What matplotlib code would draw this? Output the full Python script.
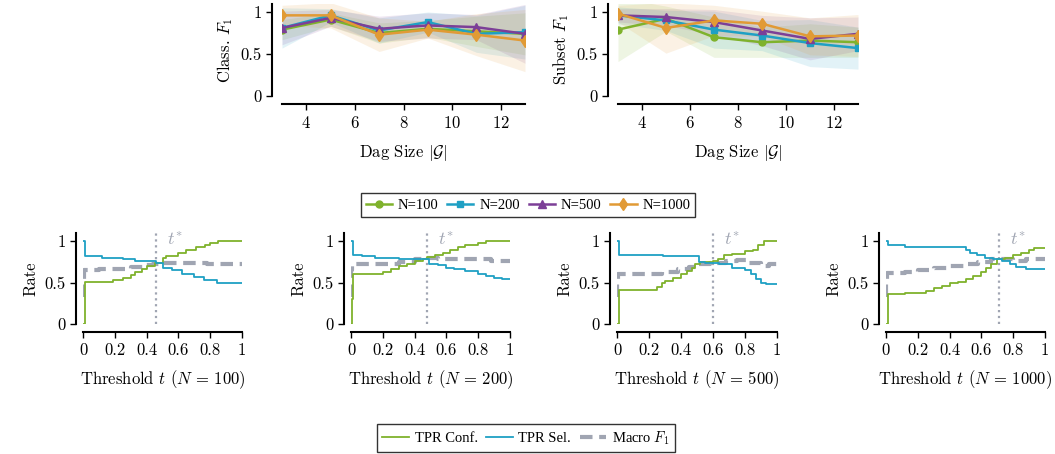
import matplotlib
matplotlib.use("Agg")
import matplotlib.pyplot as plt
import numpy as np

plt.rcParams["font.family"] = ["cmr10", "DejaVu Serif"]
plt.rcParams["mathtext.fontset"] = "cm"
plt.rcParams["axes.formatter.use_mathtext"] = True
plt.rcParams["axes.unicode_minus"] = False

# 데이터 (상단: DAG 크기별 F1)
dag_sizes = [3, 5, 7, 9, 11, 13]
sample_names = ["N=100", "N=200", "N=500", "N=1000"]

class_f1_100 = [0.79, 0.91, 0.75, 0.80, 0.77, 0.74]
class_f1_200 = [0.81, 0.96, 0.78, 0.88, 0.74, 0.76]
class_f1_500 = [0.81, 0.93, 0.80, 0.84, 0.82, 0.74]
class_f1_1000 = [0.96, 0.96, 0.73, 0.79, 0.73, 0.66]
class_std_100 = [0.12, 0.08, 0.12, 0.10, 0.18, 0.25]
class_std_200 = [0.24, 0.08, 0.15, 0.12, 0.22, 0.32]
class_std_500 = [0.20, 0.10, 0.15, 0.15, 0.15, 0.35]
class_std_1000 = [0.12, 0.15, 0.20, 0.10, 0.25, 0.37]

subset_f1_100 = [0.79, 0.92, 0.70, 0.64, 0.66, 0.64]
subset_f1_200 = [0.96, 0.90, 0.79, 0.72, 0.63, 0.57]
subset_f1_500 = [0.96, 0.94, 0.88, 0.78, 0.68, 0.74]
subset_f1_1000 = [0.98, 0.81, 0.90, 0.86, 0.71, 0.72]
subset_std_100 = [0.38, 0.15, 0.24, 0.18, 0.20, 0.18]
subset_std_200 = [0.10, 0.12, 0.22, 0.18, 0.28, 0.25]
subset_std_500 = [0.08, 0.10, 0.15, 0.18, 0.25, 0.20]
subset_std_1000 = [0.10, 0.30, 0.18, 0.15, 0.22, 0.25]

# 데이터 (하단: threshold 별 rate, (t, 값) 계단점)
conf_100 = [(0, 0), (0.01, 0.51), (0.19, 0.53), (0.25, 0.56), (0.3, 0.59), (0.33, 0.63),
            (0.37, 0.67), (0.4, 0.70), (0.45, 0.74), (0.5, 0.80), (0.52, 0.82), (0.6, 0.86),
            (0.65, 0.90), (0.71, 0.93), (0.77, 0.96), (0.8, 0.98), (0.85, 1.0), (1.0, 1.0)]
sel_100 = [(0, 1.0), (0.01, 0.82), (0.12, 0.80), (0.25, 0.79), (0.33, 0.76), (0.46, 0.74),
           (0.5, 0.68), (0.56, 0.65), (0.62, 0.61), (0.7, 0.57), (0.76, 0.53), (0.84, 0.5),
           (1.0, 0.5)]
f1_100 = [(0, 0.33), (0.003, 0.5), (0.006, 0.65), (0.1, 0.66), (0.2, 0.67), (0.3, 0.69),
          (0.38, 0.71), (0.44, 0.73), (0.5, 0.74), (0.65, 0.74), (0.78, 0.73), (1.0, 0.73)]

conf_200 = [(0, 0), (0.005, 0.3), (0.01, 0.6), (0.2, 0.63), (0.25, 0.66), (0.3, 0.7),
            (0.35, 0.73), (0.4, 0.76), (0.45, 0.79), (0.48, 0.81), (0.53, 0.83), (0.58, 0.86),
            (0.62, 0.9), (0.67, 0.93), (0.72, 0.96), (0.8, 0.98), (0.85, 1.0), (1.0, 1.0)]
sel_200 = [(0, 1.0), (0.01, 0.84), (0.07, 0.82), (0.15, 0.80), (0.3, 0.79), (0.49, 0.73),
           (0.55, 0.71), (0.6, 0.68), (0.65, 0.66), (0.72, 0.64), (0.8, 0.61), (0.85, 0.58),
           (0.9, 0.56), (0.95, 0.55), (1.0, 0.55)]
f1_200 = [(0, 0.33), (0.003, 0.65), (0.006, 0.72), (0.2, 0.73), (0.3, 0.75), (0.4, 0.78),
          (0.46, 0.8), (0.55, 0.79), (0.7, 0.79), (0.8, 0.78), (0.88, 0.76), (1.0, 0.76)]

conf_500 = [(0, 0), (0.01, 0.41), (0.25, 0.45), (0.28, 0.5), (0.3, 0.52), (0.35, 0.56),
            (0.4, 0.6), (0.44, 0.64), (0.47, 0.68), (0.49, 0.72), (0.52, 0.75), (0.6, 0.76),
            (0.63, 0.79), (0.67, 0.83), (0.72, 0.85), (0.8, 0.88), (0.85, 0.9), (0.88, 0.95),
            (0.92, 1.0), (1.0, 1.0)]
sel_500 = [(0, 1.0), (0.01, 0.84), (0.29, 0.82), (0.51, 0.75), (0.55, 0.74), (0.64, 0.72),
           (0.72, 0.68), (0.8, 0.65), (0.84, 0.6), (0.87, 0.55), (0.9, 0.5), (0.93, 0.48),
           (1.0, 0.48)]
f1_500 = [(0, 0.33), (0.003, 0.55), (0.006, 0.6), (0.2, 0.61), (0.28, 0.63), (0.38, 0.66),
          (0.45, 0.69), (0.5, 0.72), (0.58, 0.74), (0.68, 0.76), (0.75, 0.77), (0.82, 0.74),
          (0.9, 0.7), (0.95, 0.72), (1.0, 0.72)]

conf_1000 = [(0, 0), (0.01, 0.36), (0.12, 0.37), (0.25, 0.4), (0.3, 0.43), (0.35, 0.46),
             (0.4, 0.49), (0.45, 0.51), (0.5, 0.54), (0.55, 0.58), (0.6, 0.63), (0.63, 0.68),
             (0.66, 0.73), (0.7, 0.78), (0.75, 0.8), (0.8, 0.83), (0.85, 0.86), (0.9, 0.9),
             (0.93, 0.92), (1.0, 0.92)]
sel_1000 = [(0, 1.0), (0.01, 0.95), (0.12, 0.93), (0.5, 0.9), (0.53, 0.86), (0.57, 0.83),
            (0.62, 0.8), (0.67, 0.78), (0.73, 0.76), (0.78, 0.73), (0.82, 0.69), (0.88, 0.66),
            (1.0, 0.66)]
f1_1000 = [(0, 0.33), (0.003, 0.55), (0.006, 0.62), (0.12, 0.63), (0.2, 0.65), (0.3, 0.68),
           (0.4, 0.7), (0.5, 0.73), (0.58, 0.75), (0.66, 0.78), (0.75, 0.78), (0.8, 0.76),
           (0.88, 0.78), (1.0, 0.79)]

t_star = [0.46, 0.48, 0.60, 0.71]
panel_n = [100, 200, 500, 1000]

rate_ticks = [0, 0.5, 1]
rate_tick_labels = ["0", "0.5", "1"]
t_ticks = [0, 0.2, 0.4, 0.6, 0.8, 1.0]
t_tick_labels = ["0", "0.2", "0.4", "0.6", "0.8", "1"]
dag_ticks = [4, 6, 8, 10, 12]

# 색상
c_green = "#7fb22c"
c_blue = "#1fa0c4"
c_purple = "#7c3f97"
c_orange = "#e19a35"
c_gray = "#a0a5b2"
colors = [c_green, c_blue, c_purple, c_orange]
markers = ["o", "s", "^", "d"]
msizes = [5, 5, 5.5, 6]

W, H = 1055, 454
fig = plt.figure(figsize=(W / 100, H / 100), dpi=100)


def px_axes(x0, x1, ytop, ybot):
    return fig.add_axes([x0 / W, 1 - ybot / H, (x1 - x0) / W, (ybot - ytop) / H])


def style_axes(ax, left_off=7, bottom_off=6):
    for s in ["top", "right"]:
        ax.spines[s].set_visible(False)
    ax.spines["left"].set_position(("outward", left_off))
    ax.spines["bottom"].set_position(("outward", bottom_off))
    ax.spines["left"].set_linewidth(1.5)
    ax.spines["bottom"].set_linewidth(1.5)
    ax.tick_params(labelsize=12, length=4, width=1, direction="out")


# 1. 상단 F1 그래프
top_specs = [
    (282, 525, "Class. $F_1$",
     [class_f1_100, class_f1_200, class_f1_500, class_f1_1000],
     [class_std_100, class_std_200, class_std_500, class_std_1000]),
    (618, 858, "Subset $F_1$",
     [subset_f1_100, subset_f1_200, subset_f1_500, subset_f1_1000],
     [subset_std_100, subset_std_200, subset_std_500, subset_std_1000]),
]

legend_handles = []
for x0, x1, ylab, means, stds in top_specs:
    ax = px_axes(x0, x1, 3.6, 96)
    for i in range(4):
        m = np.array(means[i])
        s = np.array(stds[i])
        ax.fill_between(dag_sizes, m - s, m + s, color=colors[i], alpha=0.13, lw=0)
    handles = []
    for i in range(4):
        h, = ax.plot(dag_sizes, means[i], color=colors[i], marker=markers[i],
                     markersize=msizes[i], lw=1.8, label=sample_names[i])
        handles.append(h)
    legend_handles = handles
    ax.set_xlim(3, 13)
    ax.set_ylim(0, 1.1)
    ax.set_xticks(dag_ticks)
    ax.set_yticks(rate_ticks)
    ax.set_yticklabels(rate_tick_labels)
    ax.set_xlabel(r"Dag Size $|\mathcal{G}|$", fontsize=12, labelpad=9)
    ax.set_ylabel(ylab, fontsize=12)
    style_axes(ax, left_off=7, bottom_off=6)

fig.legend(handles=legend_handles, labels=sample_names, loc="center",
           bbox_to_anchor=(528 / W, 1 - 205 / H), ncol=4, frameon=True,
           fancybox=False, edgecolor="black", handlelength=1.8, columnspacing=0.6,
           handletextpad=0.4, borderpad=0.35, borderaxespad=0,
           prop={"family": "Liberation Serif", "size": 10.5})

# 2. 하단 threshold 그래프
panel_x = [(83, 242), (351, 510), (617, 777), (886, 1045)]
conf_all = [conf_100, conf_200, conf_500, conf_1000]
sel_all = [sel_100, sel_200, sel_500, sel_1000]
f1_all = [f1_100, f1_200, f1_500, f1_1000]

for k in range(4):
    ax = px_axes(panel_x[k][0], panel_x[k][1], 233, 324)
    ts = np.array(t_star[k])
    ax.axvline(ts, color=c_gray, ls=":", lw=1.6, zorder=1)
    f1 = np.array(f1_all[k])
    l3, = ax.plot(f1[:, 0], f1[:, 1], color=c_gray, lw=3, ls=(0, (3, 1.6)),
                  drawstyle="steps-post", label=r"Macro $F_1$", zorder=2)
    cf = np.array(conf_all[k])
    l1, = ax.plot(cf[:, 0], cf[:, 1], color=c_green, lw=1.3,
                  drawstyle="steps-post", label="TPR Conf.", zorder=3)
    sl = np.array(sel_all[k])
    l2, = ax.plot(sl[:, 0], sl[:, 1], color=c_blue, lw=1.3,
                  drawstyle="steps-post", label="TPR Sel.", zorder=3)
    ax.text(ts + 0.07, 1.02, r"$t^{*}$", color=c_gray, fontsize=13, ha="left", va="center")
    ax.set_xlim(0, 1)
    ax.set_ylim(0, 1.1)
    ax.set_xticks(t_ticks)
    ax.set_xticklabels(t_tick_labels)
    ax.set_yticks(rate_ticks)
    ax.set_yticklabels(rate_tick_labels)
    ax.set_xlabel(r"Threshold $t$ ($N\,=\,%d$)" % panel_n[k], fontsize=12, labelpad=7)
    ax.set_ylabel("Rate", fontsize=12)
    style_axes(ax, left_off=5, bottom_off=6)

fig.legend(handles=[l1, l2, l3], loc="upper center",
           bbox_to_anchor=(526 / W, 1 - 424 / H), ncol=3, frameon=True,
           fancybox=False, edgecolor="black", handlelength=1.8, columnspacing=0.6,
           handletextpad=0.4, borderpad=0.35, borderaxespad=0,
           prop={"family": "Liberation Serif", "size": 10.5})

plt.savefig("out.png", dpi=100)
plt.close()
